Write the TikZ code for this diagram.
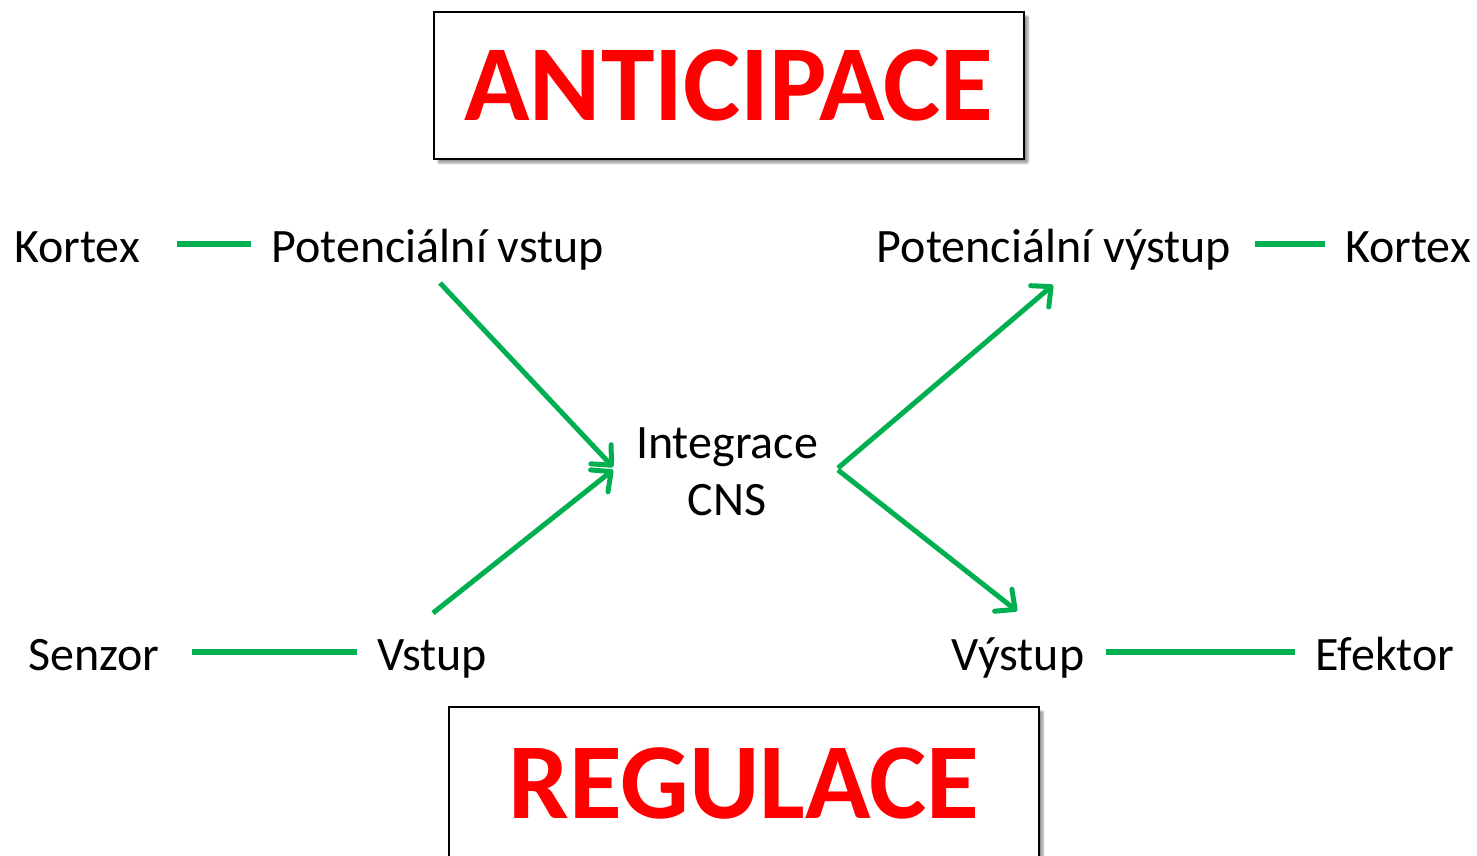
\documentclass[tikz,border=0pt]{standalone}
\usepackage{fontspec}
\setmainfont{Carlito}
\usetikzlibrary{arrows.meta,shadows.blur}
\definecolor{grn}{RGB}{0,176,80}
\definecolor{ttl}{RGB}{255,0,0}
\tikzset{
  lbl/.style={font=\fontsize{48}{57}\selectfont, inner sep=0pt, anchor=base},
  title/.style={draw=black, line width=1.5pt, fill=white, text=ttl,
    font=\fontsize{108}{114}\selectfont\bfseries, minimum width=590pt,
    inner sep=0pt, blur shadow={shadow xshift=4pt, shadow yshift=-4pt, shadow blur steps=6, shadow blur extra rounding=1pt}},
  link/.style={draw=grn, line width=5.5pt},
  arr/.style={draw=grn, line width=5pt, -{Straight Barb[length=15pt,width=28pt,round]}}
}
\begin{document}
\begin{tikzpicture}[x=1pt,y=-1pt]
\useasboundingbox (0,0) rectangle (1477,855);
\clip (0,0) rectangle (1477,855);
\node[title, minimum height=147pt] (ant) at (729,85.5) {ANTICIPACE};
\node[title, minimum height=153pt] (reg) at (744,783.5) {REGULACE};

\node[lbl] (k1) at (77,262) {Kortex};
\node[lbl] (pv) at (438,262) {Potenciální vstup};
\node[lbl] (pvy) at (1054,262) {Potenciální výstup};
\node[lbl] (k2) at (1408,262) {Kortex};
\node[lbl] (sen) at (94,670) {Senzor};
\node[lbl] (vs) at (432,670) {Vstup};
\node[lbl] (vy) at (1018,670) {Výstup};
\node[lbl] (ef) at (1385,670) {Efektor};
\node[lbl, align=center, anchor=base] (int) at (727,515) {Integrace\\CNS};

\coordinate (a1s) at (440,283);
\coordinate (a1e) at (613,467);
\coordinate (a2s) at (433,613);
\coordinate (a2e) at (613,470);
\coordinate (a3s) at (838,468);
\coordinate (a3e) at (1053,285);
\coordinate (a4s) at (838,470);
\coordinate (a4e) at (1017,611);

\draw[link] (177,244) coordinate (l1a) -- (251,244) coordinate (l1b);
\draw[link] (1255,244) coordinate (l2a) -- (1325,244) coordinate (l2b);
\draw[link] (192,652) coordinate (l3a) -- (357,652) coordinate (l3b);
\draw[link] (1106,652) coordinate (l4a) -- (1295,652) coordinate (l4b);

\draw[arr] (a1s) -- (a1e);
\draw[arr] (a2s) -- (a2e);
\draw[arr] (a3s) -- (a3e);
\draw[arr] (a4s) -- (a4e);
\end{tikzpicture}
\end{document}
